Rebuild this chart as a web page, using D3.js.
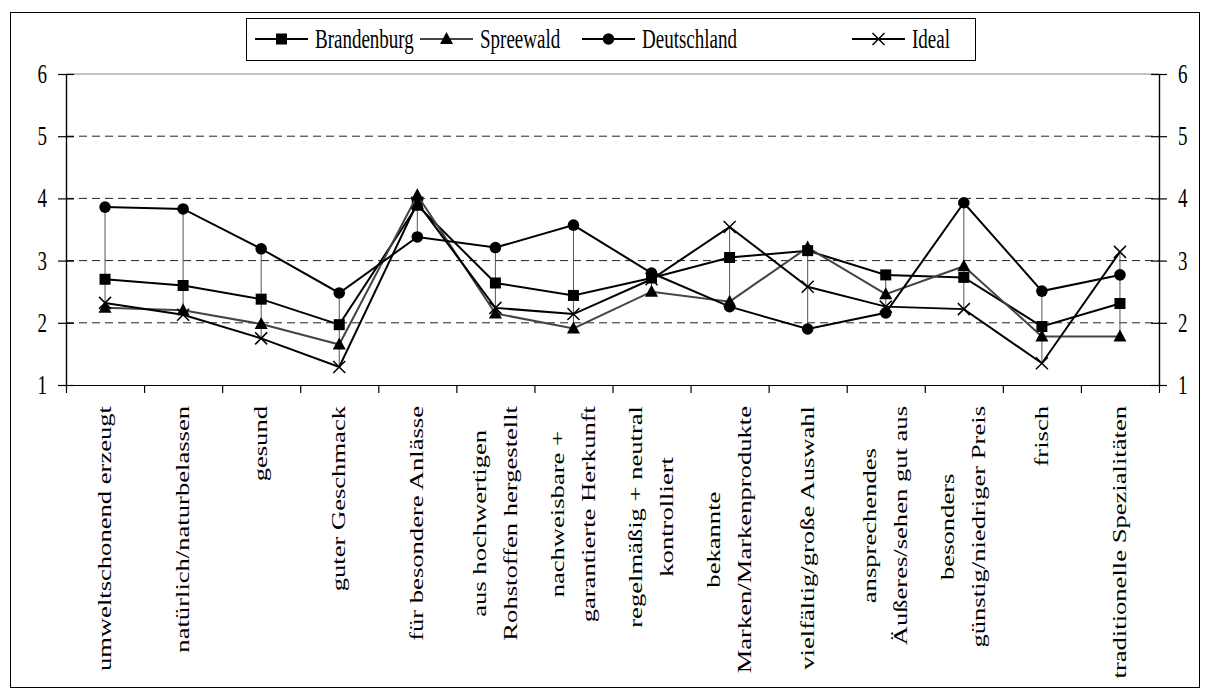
<!DOCTYPE html>
<html><head><meta charset="utf-8">
<script src="https://cdn.jsdelivr.net/npm/d3@7"></script>
<style>body{margin:0;background:#fff}svg{display:block}text{font-family:"Liberation Serif","Times New Roman",serif;fill:#000}</style>
</head><body><svg id="c" width="1210" height="693"></svg>
<script>
const categories = [
  "umweltschonend erzeugt",
  "natürlich/naturbelassen",
  "gesund",
  "guter Geschmack",
  "für besondere Anlässe",
  "aus hochwertigen\nRohstoffen hergestellt",
  "nachweisbare +\ngarantierte Herkunft",
  "regelmäßig + neutral\nkontrolliert",
  "bekannte\nMarken/Markenprodukte",
  "vielfältig/große Auswahl",
  "ansprechendes\nÄußeres/sehen gut aus",
  "besonders\ngünstig/niedriger Preis",
  "frisch",
  "traditionelle Spezialitäten"
];
const seriesNames = ["Brandenburg", "Spreewald", "Deutschland", "Ideal"];
const brandenburg = [2.70, 2.60, 2.38, 1.97, 3.89, 2.64, 2.44, 2.72, 3.05, 3.16, 2.77, 2.73, 1.94, 2.31];
const spreewald   = [2.24, 2.20, 1.98, 1.65, 4.05, 2.15, 1.91, 2.50, 2.34, 3.21, 2.46, 2.91, 1.78, 1.78];
const deutschland = [3.86, 3.83, 3.19, 2.48, 3.38, 3.21, 3.57, 2.80, 2.26, 1.90, 2.16, 3.93, 2.51, 2.77];
const ideal       = [2.32, 2.13, 1.75, 1.29, 3.93, 2.24, 2.14, 2.70, 3.54, 2.58, 2.26, 2.22, 1.35, 3.14];
const yTicks = [1, 2, 3, 4, 5, 6];

const seriesValues = [brandenburg, spreewald, deutschland, ideal];
const markers = ["square", "triangle", "circle", "cross"];
const lineColors = ["#000", "#444", "#000", "#000"];

const FS = 19, KS = 1.4, KL = 1.4;
const svg = d3.select("#c");
const L = 66, R = 1159, T = 74, B = 385;
const x = d3.scaleBand().domain(categories).range([L, R]).padding(0);
const cx = c => x(c) + x.bandwidth() / 2;
const y = d3.scaleLinear().domain([1, 6]).range([B, T]);
const xb = d3.scaleLinear().domain([0, categories.length]).range([L, R]);

// outer frame
svg.append("rect").attr("x", 10.5).attr("y", 12.5).attr("width", 1189).attr("height", 675)
  .attr("fill", "none").attr("stroke", "#000").attr("stroke-width", 1);

// gridlines
svg.append("g").selectAll("line").data(yTicks.filter(v => v > 1 && v < 6)).join("line")
  .attr("x1", L).attr("x2", R).attr("y1", d => y(d)).attr("y2", d => y(d))
  .attr("stroke", "#222").attr("stroke-width", 1).attr("stroke-dasharray", "8,5");
// top border
svg.append("line").attr("x1", L).attr("x2", R).attr("y1", y(6)).attr("y2", y(6))
  .attr("stroke", "#888").attr("stroke-width", 1.2);

// axes
function styleAxis(g) { g.selectAll("path,line").attr("stroke", "#000").attr("stroke-width", 1.2); g.selectAll("text").remove(); }
svg.append("g").attr("transform", `translate(${L},0)`).call(d3.axisLeft(y).tickValues(yTicks).tickSize(8).tickSizeOuter(0)).call(styleAxis);
svg.append("g").attr("transform", `translate(${L},0)`).call(d3.axisRight(y).tickValues(yTicks).tickSize(8).tickSizeOuter(0)).call(styleAxis);
svg.append("g").attr("transform", `translate(${R},0)`).call(d3.axisRight(y).tickValues(yTicks).tickSize(8).tickSizeOuter(0)).call(styleAxis);
svg.append("g").attr("transform", `translate(${R},0)`).call(d3.axisLeft(y).tickValues(yTicks).tickSize(8).tickSizeOuter(0)).call(styleAxis);
svg.append("g").attr("transform", `translate(0,${B})`).call(d3.axisBottom(xb).tickValues(d3.range(categories.length + 1)).tickSize(8).tickSizeOuter(0)).call(styleAxis);

// y labels
yTicks.forEach(v => {
  svg.append("text").attr("transform", `translate(${L - 19},${y(v) + 0.338 * FS * KS}) scale(1,${KS})`)
    .attr("text-anchor", "end").attr("font-size", FS).text(v);
  svg.append("text").attr("transform", `translate(${R + 19},${y(v) + 0.338 * FS * KS}) scale(1,${KS})`)
    .attr("text-anchor", "start").attr("font-size", FS).text(v);
});

// x labels
const lineGap = 31;
categories.forEach(c => {
  const lines = c.split("\n");
  const g = svg.append("g").attr("transform", `translate(${cx(c)},406) rotate(-90) scale(${KL},1)`);
  const t = g.append("text").attr("font-size", FS);
  const spans = lines.map((ln, i) => t.append("tspan").attr("y", 6 + (i - (lines.length - 1) / 2) * lineGap).text(ln));
  const lens = spans.map(s => s.node().getComputedTextLength());
  const M = d3.max(lens);
  spans.forEach(s => s.attr("x", -M / 2).attr("text-anchor", "middle"));
});

// high-low lines
categories.forEach((c, i) => {
  const vals = seriesValues.map(s => s[i]);
  svg.append("line").attr("x1", cx(c)).attr("x2", cx(c))
    .attr("y1", y(d3.min(vals))).attr("y2", y(d3.max(vals)))
    .attr("stroke", "#555").attr("stroke-width", 1);
});

// marker drawing
function drawMarker(g, type, px, py, s) {
  s = s || 1;
  if (type === "square") g.append("rect").attr("x", px - 5.5 * s).attr("y", py - 5.5 * s).attr("width", 11 * s).attr("height", 11 * s).attr("fill", "#000");
  else if (type === "triangle") g.append("path").attr("d", `M${px},${py - 7 * s}L${px + 6.5 * s},${py + 5 * s}L${px - 6.5 * s},${py + 5 * s}Z`).attr("fill", "#000");
  else if (type === "circle") g.append("circle").attr("cx", px).attr("cy", py).attr("r", 5.8 * s).attr("fill", "#000");
  else g.append("path").attr("d", `M${px - 6 * s},${py - 6 * s}L${px + 6 * s},${py + 6 * s}M${px + 6 * s},${py - 6 * s}L${px - 6 * s},${py + 6 * s}`).attr("stroke", "#000").attr("stroke-width", 1.5).attr("fill", "none");
}

const lineGen = d3.line().x((d, i) => cx(categories[i])).y(d => y(d));
seriesValues.forEach((vals, si) => {
  const g = svg.append("g");
  g.append("path").attr("d", lineGen(vals)).attr("fill", "none")
    .attr("stroke", lineColors[si]).attr("stroke-width", 2);
  vals.forEach((v, i) => drawMarker(g, markers[si], cx(categories[i]), y(v)));
});

// legend
const lg = svg.append("g");
lg.append("rect").attr("x", 246.5).attr("y", 18.5).attr("width", 729).attr("height", 42)
  .attr("fill", "#fff").attr("stroke", "#000").attr("stroke-width", 1);
const legendX = [255, 420, 582, 852];
seriesNames.forEach((n, si) => {
  const lx = legendX[si], ly = 39;
  lg.append("line").attr("x1", lx).attr("x2", lx + 53).attr("y1", ly).attr("y2", ly)
    .attr("stroke", lineColors[si]).attr("stroke-width", 2);
  drawMarker(lg, markers[si], lx + 26.5, ly);
  lg.append("text").attr("transform", `translate(${lx + 60},${ly + 0.33 * FS * KS}) scale(1,${KS})`)
    .attr("font-size", FS).text(n);
});
</script></body></html>
